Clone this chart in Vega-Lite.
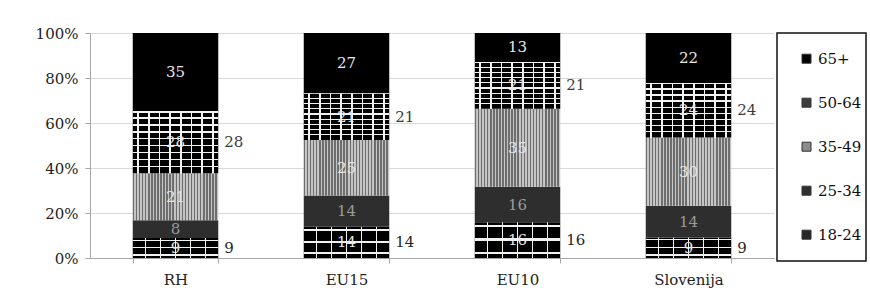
{
  "$schema": "https://vega.github.io/schema/vega-lite/v6.json",
  "width": 684,
  "height": 225,
  "autosize": {"type": "none"},
  "padding": {"left": 90, "top": 33, "right": 96, "bottom": 48},
  "background": "white",
  "config": {
    "view": {"stroke": null},
    "font": "DejaVu Serif",
    "axis": {"labelFont": "DejaVu Serif", "labelFontSize": 15, "labelColor": "#222222", "domainColor": "#a6a6a6", "tickColor": "#a6a6a6", "gridColor": "#d9d9d9"},
    "legend": {"strokeWidth": 1.5}
  },
  "data": {
    "values": [
      {"region": "RH", "age": "18-24", "value": 9},
      {"region": "RH", "age": "25-34", "value": 8},
      {"region": "RH", "age": "35-49", "value": 21},
      {"region": "RH", "age": "50-64", "value": 28},
      {"region": "RH", "age": "65+", "value": 35},
      {"region": "EU15", "age": "18-24", "value": 14},
      {"region": "EU15", "age": "25-34", "value": 14},
      {"region": "EU15", "age": "35-49", "value": 25},
      {"region": "EU15", "age": "50-64", "value": 21},
      {"region": "EU15", "age": "65+", "value": 27},
      {"region": "EU10", "age": "18-24", "value": 16},
      {"region": "EU10", "age": "25-34", "value": 16},
      {"region": "EU10", "age": "35-49", "value": 35},
      {"region": "EU10", "age": "50-64", "value": 21},
      {"region": "EU10", "age": "65+", "value": 13},
      {"region": "Slovenija", "age": "18-24", "value": 9},
      {"region": "Slovenija", "age": "25-34", "value": 14},
      {"region": "Slovenija", "age": "35-49", "value": 30},
      {"region": "Slovenija", "age": "50-64", "value": 24},
      {"region": "Slovenija", "age": "65+", "value": 22}
    ]
  },
  "layer": [
    {
      "mark": {"type": "bar"},
      "encoding": {
        "x": {"field": "region", "type": "nominal", "sort": ["RH", "EU15", "EU10", "Slovenija"], "scale": {"paddingInner": 0.5, "paddingOuter": 0.25},
          "axis": {"title": null, "labelAngle": 0, "tickBand": "extent", "tickSize": 5, "labelPadding": 9, "grid": false}},
        "y": {"field": "value", "type": "quantitative", "stack": "normalize",
          "axis": {"title": null, "values": [0, 0.2, 0.4, 0.6, 0.8, 1], "format": ".0%", "tickSize": 5, "labelPadding": 7, "grid": true}},
        "order": {"field": "age", "type": "ordinal", "sort": "ascending"},
        "detail": {"field": "age"},
        "fill": {
          "condition": [
            {"test": "datum.age === '50-64'", "value": {"gradient": "linear", "x1": 0, "y1": 0, "x2": 1, "y2": 0, "stops": [
                {"offset": 0, "color": "#000000"}, {"offset": 0.0525, "color": "#000000"}, {"offset": 0.0525, "color": "#f2f2f2"}, {"offset": 0.0725, "color": "#f2f2f2"},
                {"offset": 0.0725, "color": "#000000"}, {"offset": 0.1775, "color": "#000000"}, {"offset": 0.1775, "color": "#f2f2f2"}, {"offset": 0.1975, "color": "#f2f2f2"},
                {"offset": 0.1975, "color": "#000000"}, {"offset": 0.3025, "color": "#000000"}, {"offset": 0.3025, "color": "#f2f2f2"}, {"offset": 0.3225, "color": "#f2f2f2"},
                {"offset": 0.3225, "color": "#000000"}, {"offset": 0.4275, "color": "#000000"}, {"offset": 0.4275, "color": "#f2f2f2"}, {"offset": 0.4475, "color": "#f2f2f2"},
                {"offset": 0.4475, "color": "#000000"}, {"offset": 0.5525, "color": "#000000"}, {"offset": 0.5525, "color": "#f2f2f2"}, {"offset": 0.5725, "color": "#f2f2f2"},
                {"offset": 0.5725, "color": "#000000"}, {"offset": 0.6775, "color": "#000000"}, {"offset": 0.6775, "color": "#f2f2f2"}, {"offset": 0.6975, "color": "#f2f2f2"},
                {"offset": 0.6975, "color": "#000000"}, {"offset": 0.8025, "color": "#000000"}, {"offset": 0.8025, "color": "#f2f2f2"}, {"offset": 0.8225, "color": "#f2f2f2"},
                {"offset": 0.8225, "color": "#000000"}, {"offset": 0.9275, "color": "#000000"}, {"offset": 0.9275, "color": "#f2f2f2"}, {"offset": 0.9475, "color": "#f2f2f2"},
                {"offset": 0.9475, "color": "#000000"}, {"offset": 1, "color": "#000000"}
              ]}},
            {"test": "datum.age === '35-49'", "value": {"gradient": "linear", "x1": 0, "y1": 0, "x2": 1, "y2": 0, "stops": [
                {"offset": 0, "color": "#6e6e6e"}, {"offset": 0.0179, "color": "#6e6e6e"}, {"offset": 0.0179, "color": "#c4c4c4"}, {"offset": 0.0357, "color": "#c4c4c4"},
                {"offset": 0.0357, "color": "#6e6e6e"}, {"offset": 0.0536, "color": "#6e6e6e"}, {"offset": 0.0536, "color": "#c4c4c4"}, {"offset": 0.0714, "color": "#c4c4c4"},
                {"offset": 0.0714, "color": "#6e6e6e"}, {"offset": 0.0893, "color": "#6e6e6e"}, {"offset": 0.0893, "color": "#c4c4c4"}, {"offset": 0.1071, "color": "#c4c4c4"},
                {"offset": 0.1071, "color": "#6e6e6e"}, {"offset": 0.125, "color": "#6e6e6e"}, {"offset": 0.125, "color": "#c4c4c4"}, {"offset": 0.1429, "color": "#c4c4c4"},
                {"offset": 0.1429, "color": "#6e6e6e"}, {"offset": 0.1607, "color": "#6e6e6e"}, {"offset": 0.1607, "color": "#c4c4c4"}, {"offset": 0.1786, "color": "#c4c4c4"},
                {"offset": 0.1786, "color": "#6e6e6e"}, {"offset": 0.1964, "color": "#6e6e6e"}, {"offset": 0.1964, "color": "#c4c4c4"}, {"offset": 0.2143, "color": "#c4c4c4"},
                {"offset": 0.2143, "color": "#6e6e6e"}, {"offset": 0.2321, "color": "#6e6e6e"}, {"offset": 0.2321, "color": "#c4c4c4"}, {"offset": 0.25, "color": "#c4c4c4"},
                {"offset": 0.25, "color": "#6e6e6e"}, {"offset": 0.2679, "color": "#6e6e6e"}, {"offset": 0.2679, "color": "#c4c4c4"}, {"offset": 0.2857, "color": "#c4c4c4"},
                {"offset": 0.2857, "color": "#6e6e6e"}, {"offset": 0.3036, "color": "#6e6e6e"}, {"offset": 0.3036, "color": "#c4c4c4"}, {"offset": 0.3214, "color": "#c4c4c4"},
                {"offset": 0.3214, "color": "#6e6e6e"}, {"offset": 0.3393, "color": "#6e6e6e"}, {"offset": 0.3393, "color": "#c4c4c4"}, {"offset": 0.3571, "color": "#c4c4c4"},
                {"offset": 0.3571, "color": "#6e6e6e"}, {"offset": 0.375, "color": "#6e6e6e"}, {"offset": 0.375, "color": "#c4c4c4"}, {"offset": 0.3929, "color": "#c4c4c4"},
                {"offset": 0.3929, "color": "#6e6e6e"}, {"offset": 0.4107, "color": "#6e6e6e"}, {"offset": 0.4107, "color": "#c4c4c4"}, {"offset": 0.4286, "color": "#c4c4c4"},
                {"offset": 0.4286, "color": "#6e6e6e"}, {"offset": 0.4464, "color": "#6e6e6e"}, {"offset": 0.4464, "color": "#c4c4c4"}, {"offset": 0.4643, "color": "#c4c4c4"},
                {"offset": 0.4643, "color": "#6e6e6e"}, {"offset": 0.4821, "color": "#6e6e6e"}, {"offset": 0.4821, "color": "#c4c4c4"}, {"offset": 0.5, "color": "#c4c4c4"},
                {"offset": 0.5, "color": "#6e6e6e"}, {"offset": 0.5179, "color": "#6e6e6e"}, {"offset": 0.5179, "color": "#c4c4c4"}, {"offset": 0.5357, "color": "#c4c4c4"},
                {"offset": 0.5357, "color": "#6e6e6e"}, {"offset": 0.5536, "color": "#6e6e6e"}, {"offset": 0.5536, "color": "#c4c4c4"}, {"offset": 0.5714, "color": "#c4c4c4"},
                {"offset": 0.5714, "color": "#6e6e6e"}, {"offset": 0.5893, "color": "#6e6e6e"}, {"offset": 0.5893, "color": "#c4c4c4"}, {"offset": 0.6071, "color": "#c4c4c4"},
                {"offset": 0.6071, "color": "#6e6e6e"}, {"offset": 0.625, "color": "#6e6e6e"}, {"offset": 0.625, "color": "#c4c4c4"}, {"offset": 0.6429, "color": "#c4c4c4"},
                {"offset": 0.6429, "color": "#6e6e6e"}, {"offset": 0.6607, "color": "#6e6e6e"}, {"offset": 0.6607, "color": "#c4c4c4"}, {"offset": 0.6786, "color": "#c4c4c4"},
                {"offset": 0.6786, "color": "#6e6e6e"}, {"offset": 0.6964, "color": "#6e6e6e"}, {"offset": 0.6964, "color": "#c4c4c4"}, {"offset": 0.7143, "color": "#c4c4c4"},
                {"offset": 0.7143, "color": "#6e6e6e"}, {"offset": 0.7321, "color": "#6e6e6e"}, {"offset": 0.7321, "color": "#c4c4c4"}, {"offset": 0.75, "color": "#c4c4c4"},
                {"offset": 0.75, "color": "#6e6e6e"}, {"offset": 0.7679, "color": "#6e6e6e"}, {"offset": 0.7679, "color": "#c4c4c4"}, {"offset": 0.7857, "color": "#c4c4c4"},
                {"offset": 0.7857, "color": "#6e6e6e"}, {"offset": 0.8036, "color": "#6e6e6e"}, {"offset": 0.8036, "color": "#c4c4c4"}, {"offset": 0.8214, "color": "#c4c4c4"},
                {"offset": 0.8214, "color": "#6e6e6e"}, {"offset": 0.8393, "color": "#6e6e6e"}, {"offset": 0.8393, "color": "#c4c4c4"}, {"offset": 0.8571, "color": "#c4c4c4"},
                {"offset": 0.8571, "color": "#6e6e6e"}, {"offset": 0.875, "color": "#6e6e6e"}, {"offset": 0.875, "color": "#c4c4c4"}, {"offset": 0.8929, "color": "#c4c4c4"},
                {"offset": 0.8929, "color": "#6e6e6e"}, {"offset": 0.9107, "color": "#6e6e6e"}, {"offset": 0.9107, "color": "#c4c4c4"}, {"offset": 0.9286, "color": "#c4c4c4"},
                {"offset": 0.9286, "color": "#6e6e6e"}, {"offset": 0.9464, "color": "#6e6e6e"}, {"offset": 0.9464, "color": "#c4c4c4"}, {"offset": 0.9643, "color": "#c4c4c4"},
                {"offset": 0.9643, "color": "#6e6e6e"}, {"offset": 0.9821, "color": "#6e6e6e"}, {"offset": 0.9821, "color": "#c4c4c4"}, {"offset": 1, "color": "#c4c4c4"}
              ]}},
            {"test": "datum.age === '25-34'", "value": "#2e2e2e"},
            {"test": "datum.age === '18-24'", "value": {"gradient": "linear", "x1": 0, "y1": 0, "x2": 1, "y2": 0, "stops": [
                {"offset": 0, "color": "#000000"}, {"offset": 0.14, "color": "#000000"}, {"offset": 0.14, "color": "#f2f2f2"}, {"offset": 0.16, "color": "#f2f2f2"},
                {"offset": 0.16, "color": "#000000"}, {"offset": 0.315, "color": "#000000"}, {"offset": 0.315, "color": "#f2f2f2"}, {"offset": 0.335, "color": "#f2f2f2"},
                {"offset": 0.335, "color": "#000000"}, {"offset": 0.49, "color": "#000000"}, {"offset": 0.49, "color": "#f2f2f2"}, {"offset": 0.51, "color": "#f2f2f2"},
                {"offset": 0.51, "color": "#000000"}, {"offset": 0.665, "color": "#000000"}, {"offset": 0.665, "color": "#f2f2f2"}, {"offset": 0.685, "color": "#f2f2f2"},
                {"offset": 0.685, "color": "#000000"}, {"offset": 0.84, "color": "#000000"}, {"offset": 0.84, "color": "#f2f2f2"}, {"offset": 0.86, "color": "#f2f2f2"},
                {"offset": 0.86, "color": "#000000"}, {"offset": 1, "color": "#000000"}
              ]}}
          ],
          "value": "#000000"
        }
      }
    },
    {
      "mark": {"type": "bar"},
      "encoding": {
        "x": {"field": "region", "type": "nominal", "sort": ["RH", "EU15", "EU10", "Slovenija"]},
        "y": {"field": "value", "type": "quantitative", "stack": "normalize"},
        "order": {"field": "age", "type": "ordinal", "sort": "ascending"},
        "detail": {"field": "age"},
        "fill": {
          "condition": [
            {"test": "datum.age === '18-24'", "value": {"gradient": "linear", "x1": 0, "y1": 0, "x2": 0, "y2": 1, "stops": [
              {"offset": 0, "color": "rgba(255,255,255,0)"}, {"offset": 0.08, "color": "rgba(255,255,255,0)"}, {"offset": 0.08, "color": "#f2f2f2"}, {"offset": 0.14, "color": "#f2f2f2"},
              {"offset": 0.14, "color": "rgba(255,255,255,0)"}, {"offset": 0.45, "color": "rgba(255,255,255,0)"}, {"offset": 0.45, "color": "#f2f2f2"}, {"offset": 0.51, "color": "#f2f2f2"},
              {"offset": 0.51, "color": "rgba(255,255,255,0)"}, {"offset": 0.82, "color": "rgba(255,255,255,0)"}, {"offset": 0.82, "color": "#f2f2f2"}, {"offset": 0.88, "color": "#f2f2f2"},
              {"offset": 0.88, "color": "rgba(255,255,255,0)"}, {"offset": 1, "color": "rgba(255,255,255,0)"}
            ]}},
            {"test": "datum.age === '50-64'", "value": {"gradient": "linear", "x1": 0, "y1": 0, "x2": 0, "y2": 1, "stops": [
              {"offset": 0, "color": "#f2f2f2"}, {"offset": 0.025, "color": "#f2f2f2"}, {"offset": 0.025, "color": "rgba(255,255,255,0)"}, {"offset": 0.0986, "color": "rgba(255,255,255,0)"},
              {"offset": 0.0986, "color": "#f2f2f2"}, {"offset": 0.1236, "color": "#f2f2f2"}, {"offset": 0.1236, "color": "rgba(255,255,255,0)"}, {"offset": 0.2097, "color": "rgba(255,255,255,0)"},
              {"offset": 0.2097, "color": "#f2f2f2"}, {"offset": 0.2347, "color": "#f2f2f2"}, {"offset": 0.2347, "color": "rgba(255,255,255,0)"}, {"offset": 0.3208, "color": "rgba(255,255,255,0)"},
              {"offset": 0.3208, "color": "#f2f2f2"}, {"offset": 0.3458, "color": "#f2f2f2"}, {"offset": 0.3458, "color": "rgba(255,255,255,0)"}, {"offset": 0.4319, "color": "rgba(255,255,255,0)"},
              {"offset": 0.4319, "color": "#f2f2f2"}, {"offset": 0.4569, "color": "#f2f2f2"}, {"offset": 0.4569, "color": "rgba(255,255,255,0)"}, {"offset": 0.543, "color": "rgba(255,255,255,0)"},
              {"offset": 0.543, "color": "#f2f2f2"}, {"offset": 0.568, "color": "#f2f2f2"}, {"offset": 0.568, "color": "rgba(255,255,255,0)"}, {"offset": 0.6541, "color": "rgba(255,255,255,0)"},
              {"offset": 0.6541, "color": "#f2f2f2"}, {"offset": 0.6791, "color": "#f2f2f2"}, {"offset": 0.6791, "color": "rgba(255,255,255,0)"}, {"offset": 0.7652, "color": "rgba(255,255,255,0)"},
              {"offset": 0.7652, "color": "#f2f2f2"}, {"offset": 0.7902, "color": "#f2f2f2"}, {"offset": 0.7902, "color": "rgba(255,255,255,0)"}, {"offset": 0.8763, "color": "rgba(255,255,255,0)"},
              {"offset": 0.8763, "color": "#f2f2f2"}, {"offset": 0.9013, "color": "#f2f2f2"}, {"offset": 0.9013, "color": "rgba(255,255,255,0)"}, {"offset": 1, "color": "rgba(255,255,255,0)"}
            ]}}
          ],
          "value": "transparent"
        }
      }
    },
    {
      "mark": {"type": "text", "font": "DejaVu Serif", "fontSize": 15, "baseline": "middle", "align": "center"},
      "encoding": {
        "x": {"field": "region", "type": "nominal", "sort": ["RH", "EU15", "EU10", "Slovenija"]},
        "y": {"field": "value", "type": "quantitative", "stack": "normalize", "bandPosition": 0.5},
        "order": {"field": "age", "type": "ordinal", "sort": "ascending"},
        "detail": {"field": "age"},
        "text": {"field": "value", "type": "quantitative"},
        "color": {"condition": {"test": "datum.age === '25-34'", "value": "#9a9a9a"}, "value": "#e6e6e6"}
      }
    },
    {
      "mark": {"type": "text", "font": "DejaVu Serif", "fontSize": 15, "baseline": "middle", "align": "left", "dx": 6},
      "encoding": {
        "x": {"field": "region", "type": "nominal", "sort": ["RH", "EU15", "EU10", "Slovenija"], "bandPosition": 1},
        "y": {"field": "value", "type": "quantitative", "stack": "normalize", "bandPosition": 0.5},
        "order": {"field": "age", "type": "ordinal", "sort": "ascending"},
        "color": {
          "field": "age", "type": "nominal",
          "scale": {"domain": ["65+", "50-64", "35-49", "25-34", "18-24"], "range": ["#000000", "#3c3c3c", "#8c8c8c", "#2e2e2e", "#262626"]},
          "legend": {"title": null, "orient": "none", "legendX": 687, "legendY": 0, "padding": 4, "rowPadding": 0, "clipHeight": 43.4, "strokeColor": "#111111", "fillColor": "white",
            "symbolType": "square", "symbolSize": 81, "symbolStrokeColor": "#333333", "symbolStrokeWidth": 1, "symbolOffset": 18, "labelOffset": 4,
            "labelFont": "DejaVu Serif", "labelFontSize": 15, "labelColor": "#111111"}
        },
        "text": {"condition": {"test": "datum.age === '18-24' || datum.age === '50-64'", "field": "value", "type": "quantitative"}, "value": ""}
      }
    }
  ]
}
